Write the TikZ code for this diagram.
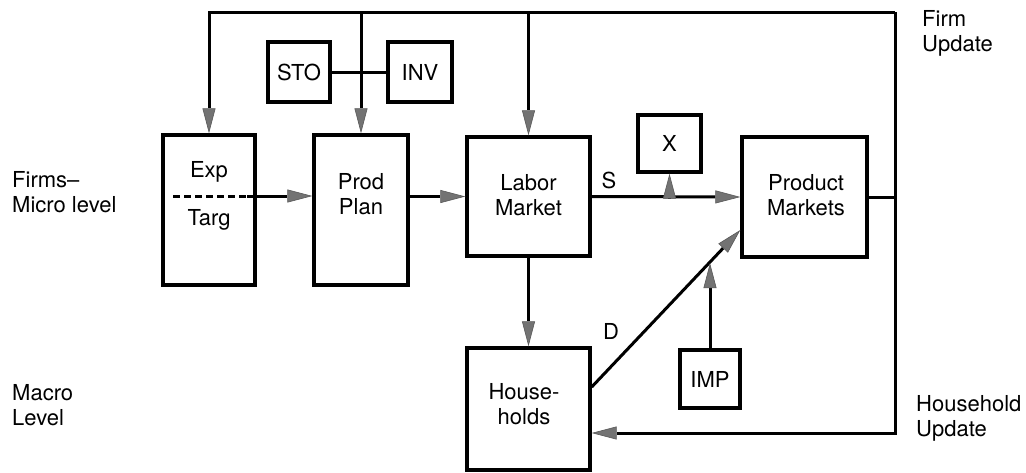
\documentclass[tikz,border=0pt]{standalone}
\usepackage{fontspec}
\setmainfont{TeX Gyre Heros}
\usetikzlibrary{arrows.meta}
\begin{document}
\begin{tikzpicture}[x=1pt,y=-1pt,
  txt/.style={font=\fontsize{22}{25}\selectfont},
  box/.style={draw=black, line width=3.4pt, inner sep=0pt, align=center, txt},
  ctext/.style={txt, align=center, inner sep=0pt},
  ln/.style={line width=3pt, line cap=rect, line join=miter},
  arr/.style={line width=3pt, line join=miter,
    -{Triangle[length=25pt,width=13pt,color=black!65,fill=black!55,line width=0.6pt]}},
  lbl/.style={txt, align=left, anchor=west, inner sep=0pt}
]
\useasboundingbox (0,0) rectangle (1026,472);

% boxes
\node[box, minimum width=92pt, minimum height=150pt] (exp) at (209,210) {};
\node[ctext] (expt) at (209,172) {Exp};
\node[ctext] (targ) at (209,220) {Targ};
\node[box, minimum width=94pt, minimum height=150pt] (prod) at (361,210) {};
\node[ctext] (prodt) at (361,194) {Prod\\Plan};
\node[box, minimum width=123pt, minimum height=119pt] (lab) at (528.5,196.5) {};
\node[ctext] (labt) at (528.5,195) {Labor\\Market};
\node[box, minimum width=125pt, minimum height=120pt] (pm) at (804.5,197) {};
\node[ctext] (pmt) at (806,195) {Product\\Markets};
\node[box, minimum width=123pt, minimum height=122pt] (hh) at (528.5,409) {};
\node[ctext] (hht) at (524,404) {House-\\holds};
\node[box, minimum width=60pt, minimum height=58pt] (imp) at (710,379) {IMP};
\node[box, minimum width=63pt, minimum height=57pt] (x) at (669.5,143.5) {X};
\node[box, minimum width=62pt, minimum height=60pt] (sto) at (299,72) {STO};
\node[box, minimum width=64pt, minimum height=60pt] (inv) at (420,72) {INV};

% coordinates of the feedback loop
\coordinate (tl) at (209,12);
\coordinate (tr) at (895,12);
\coordinate (br) at (895,433);

% feedback loop
\draw[arr] (tr) -- (tl) -- (exp.north);
\draw[arr] (tr) -- (br) -- (hh.east |- br);
\draw[arr] (prod.north |- tl) -- (prod.north);
\draw[arr] (lab.north |- tl) -- (lab.north);
\draw[ln] (pm.east) -- (pm.east -| tr);

% STO - INV
\draw[line width=3pt] (sto.east) -- (inv.west);

% Exp/Targ dashed separator and arrow
\coordinate (d1) at (173,196);
\coordinate (d2) at (247,196);
\draw[line width=3pt, dash pattern=on 7pt off 4pt] (d1) -- (d2);
\draw[arr] (d2) -- (prod.west |- d2);
\draw[arr] (prod.east |- lab.west) -- (lab.west);

% S flow
\draw[arr] (lab.east) -- (pm.west);
\coordinate (sx) at (x.south |- lab.east);
\draw[arr] (sx) -- (x.south);
\node[txt, inner sep=0pt] (slbl) at (609,180) {S};

% down to households
\draw[arr] (lab.south) -- (hh.north);

% D flow
\coordinate (dstart) at ([yshift=22pt]hh.east);
\coordinate (dend) at ([yshift=-33pt]pm.west);
\draw[arr] (dstart) -- (dend);
\node[txt, inner sep=0pt] (dlbl) at (611,331) {D};
\path (dstart) -- (dend) coordinate[pos=0.789] (dimp);
\draw[arr] (imp.north) -- (imp.north |- dimp);

% side labels
\node[lbl] (firms) at (12,192) {Firms--\\Micro level};
\node[lbl] (macro) at (12,405) {Macro\\Level};
\node[lbl] (fup) at (922,33) {Firm\\Update};
\node[lbl] (hup) at (916,418) {Household\\Update};
\end{tikzpicture}
\end{document}
